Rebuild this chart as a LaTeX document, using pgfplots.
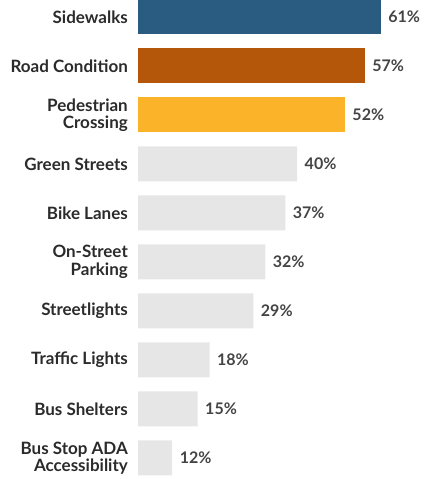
\documentclass[border=0pt]{standalone}
\usepackage{pgfplots}
\pgfplotsset{compat=1.18}
\usepackage{fontspec}
\setmainfont{Lato}
\definecolor{cblue}{HTML}{2A5C81}
\definecolor{corange}{HTML}{B5570A}
\definecolor{cyellow}{HTML}{FBB42A}
\definecolor{cgray}{HTML}{E6E6E6}
\definecolor{ctext}{HTML}{2B2B2B}
\definecolor{cval}{HTML}{444444}
\begin{document}
\begin{tikzpicture}[x=1pt,y=1pt]
\begin{axis}[
  anchor=south west, at={(138pt,-3.5pt)},
  x=3.98pt, y=49pt,
  xmin=0, xmax=62, ymin=-0.5, ymax=9.5,
  axis line style={draw=none},
  xtick=\empty,
  ytick={0,...,9},
  yticklabels={{Bus Stop ADA\\Accessibility},{Bus Shelters},{Traffic Lights},{Streetlights},{On-Street\\Parking},{Bike Lanes},{Green Streets},{Pedestrian\\Crossing},{Road Condition},{Sidewalks}},
  yticklabel style={align=right, anchor=east, inner sep=0pt, xshift=-10pt, font=\fontsize{17}{17.5}\selectfont\bfseries, text=ctext},
  major tick length=0pt,
  xbar, bar width=35pt, bar shift=0pt,
  clip=false,
  point meta=explicit,
  /pgf/number format/assume math mode=true,
  nodes near coords={\pgfmathprintnumber{\pgfplotspointmeta}\%},
  nodes near coords style={anchor=west, xshift=4pt, font=\fontsize{16}{17}\selectfont\bfseries, text=cval},
]
\addplot[fill=cblue, draw=none] coordinates {(61,9) [61]};
\addplot[fill=corange, draw=none] coordinates {(57,8) [57]};
\addplot[fill=cyellow, draw=none] coordinates {(52,7) [52]};
\addplot[fill=cgray, draw=none] coordinates {(40,6) [40] (37,5) [37] (32,4) [32] (29,3) [29] (18,2) [18] (15,1) [15] (8.6,0) [12]};
\end{axis}
\pgfresetboundingbox
\path (0,0) rectangle (426,479);
\end{tikzpicture}
\end{document}
